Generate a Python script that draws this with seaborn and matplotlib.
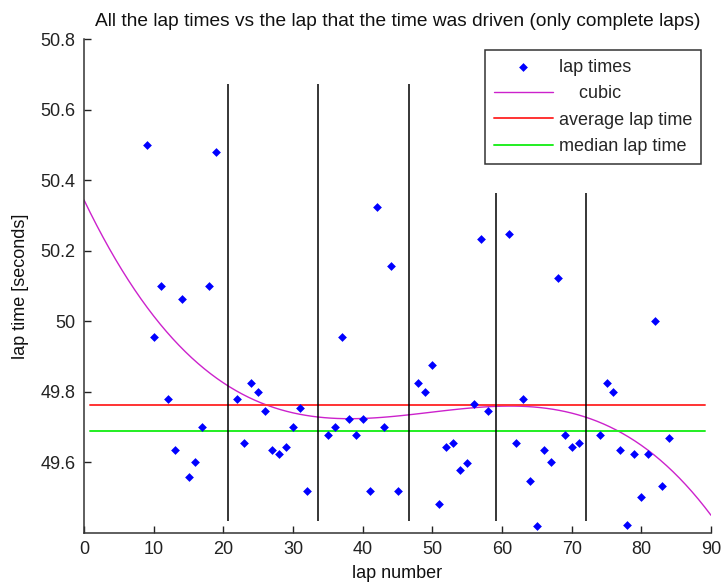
import matplotlib
matplotlib.use("Agg")
import matplotlib.pyplot as plt
import seaborn as sns

# lap numbers and lap times (only complete laps)
laps = [9, 10, 11, 12, 13, 14, 15, 16, 17, 18, 19,
        22, 23, 24, 25, 26, 27, 28, 29, 30, 31, 32,
        35, 36, 37, 38, 39, 40, 41, 42, 43, 44, 45,
        48, 49, 50, 51, 52, 53, 54, 55, 56, 57, 58,
        61, 62, 63, 64, 65, 66, 67, 68, 69, 70, 71,
        74, 75, 76, 77, 78, 79, 80, 81, 82, 83, 84]
lap_times = [50.500, 49.955, 50.100, 49.780, 49.636, 50.064, 49.558, 49.600, 49.700, 50.100, 50.479,
             49.780, 49.656, 49.824, 49.800, 49.747, 49.636, 49.623, 49.643, 49.700, 49.754, 49.520,
             49.677, 49.700, 49.955, 49.722, 49.677, 49.722, 49.520, 50.323, 49.700, 50.156, 49.520,
             49.824, 49.800, 49.877, 49.481, 49.643, 49.656, 49.578, 49.598, 49.767, 50.233, 49.747,
             50.246, 49.656, 49.779, 49.546, 49.421, 49.636, 49.600, 50.123, 49.677, 49.643, 49.656,
             49.677, 49.824, 49.800, 49.636, 49.422, 49.624, 49.501, 49.624, 50.000, 49.534, 49.669]

# horizontal reference lines
average_time = 49.762
median_time = 49.689
ref_x = [0.8, 89.2]

# vertical separator lines (x, bottom, top)
sep_x = [20.7, 33.6, 46.6, 59.2, 72.0]
sep_bottom = [49.435, 49.435, 49.435, 49.435, 49.435]
sep_top = [50.672, 50.672, 50.672, 50.363, 50.363]

y_ticks = [49.6, 49.8, 50.0, 50.2, 50.4, 50.6, 50.8]
y_tick_labels = ["49.6", "49.8", "50", "50.2", "50.4", "50.6", "50.8"]
x_ticks = [0, 10, 20, 30, 40, 50, 60, 70, 80, 90]

sns.set_style("ticks")
plt.rcParams['font.family'] = ['Liberation Sans', 'DejaVu Sans']

fig = plt.figure(figsize=(7.21, 5.82), dpi=100)
ax = fig.add_axes([84 / 721, 1 - 533 / 582, 627 / 721, 494 / 582])
ax.set_xlim(0, 90)
ax.set_ylim(49.4, 50.8)

sns.scatterplot(x=laps, y=lap_times, marker='D', s=20, color='blue',
                edgecolor='blue', linewidth=0, label='lap times', ax=ax, zorder=3)
sns.regplot(x=laps, y=lap_times, order=3, ci=None, scatter=False, truncate=False,
            color='#cc22cc', line_kws=dict(lw=1), label='    cubic', ax=ax)
ax.plot(ref_x, [average_time, average_time], color='#ff3333', lw=1.4, label='average lap time')
ax.plot(ref_x, [median_time, median_time], color='#22ee22', lw=1.4, label='median lap time')
ax.vlines(sep_x, sep_bottom, sep_top, color='black', lw=1.1)

ax.set_xlim(0, 90)
ax.set_ylim(49.4, 50.8)
ax.set_xticks(x_ticks)
ax.set_yticks(y_ticks)
ax.set_yticklabels(y_tick_labels)
ax.tick_params(direction='in', length=5, width=1, colors='#222222', labelsize=13, pad=6)
for side in ['top', 'right']:
    ax.spines[side].set_visible(False)
for side in ['left', 'bottom']:
    ax.spines[side].set_color('#333333')
    ax.spines[side].set_linewidth(1.1)

ax.set_title("All the lap times vs the lap that the time was driven (only complete laps)",
             fontsize=13.8, pad=9, color='#111111')
ax.set_xlabel("lap number", fontsize=13, labelpad=5, color='#111111')
ax.set_ylabel("lap time [seconds]", fontsize=13, labelpad=8, color='#111111')

leg = ax.legend(loc='upper right', bbox_to_anchor=(1 - 10 / 627, 1 - 11 / 494), borderaxespad=0,
                fontsize=13, handlelength=3.3, handletextpad=0.3, labelspacing=0.52,
                borderpad=0.5, fancybox=False, framealpha=1, edgecolor='#333333')
leg.get_frame().set_linewidth(1.1)

plt.savefig("out.png", dpi=100)
plt.close()
